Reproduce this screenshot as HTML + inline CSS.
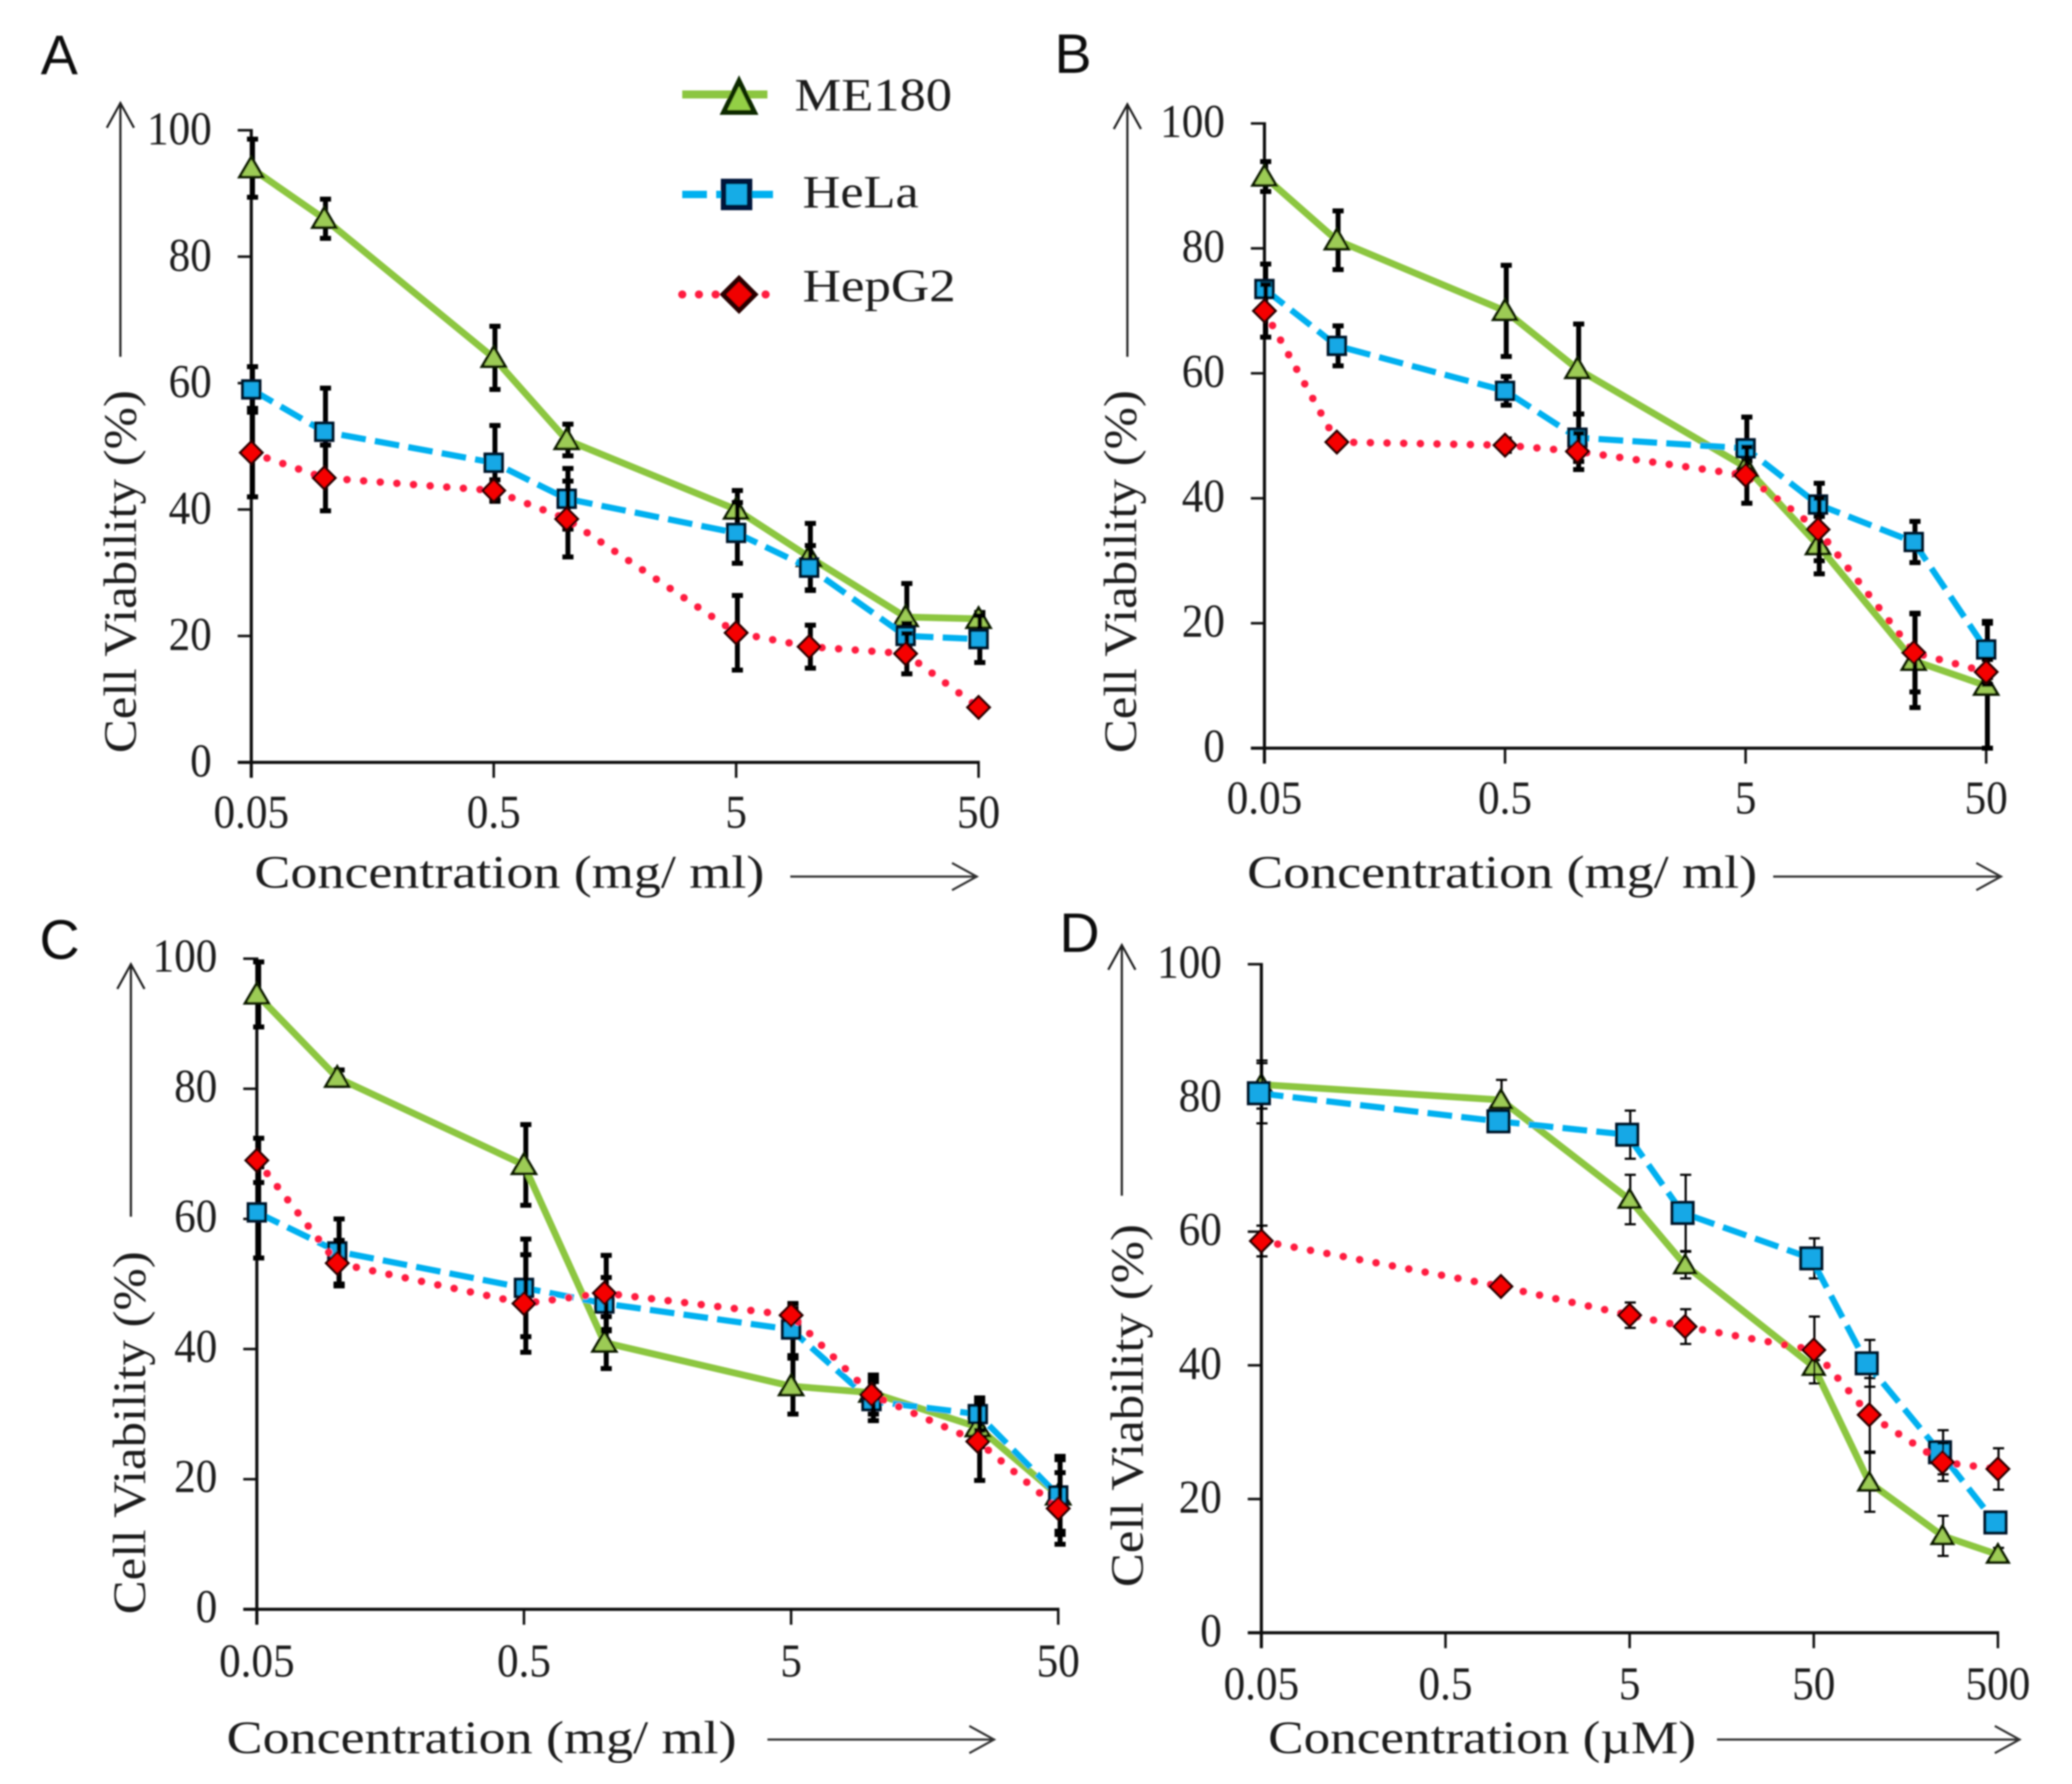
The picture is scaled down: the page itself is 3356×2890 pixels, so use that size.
<!DOCTYPE html>
<html lang="en">
<head>
<meta charset="utf-8">
<title>Cell viability panels</title>
<style>
html,body{margin:0;padding:0;background:#fff;}
body{width:3356px;height:2890px;overflow:hidden;}
svg{display:block;}
text{font-family:"Liberation Serif",serif;fill:#1c1c1c;}
.panel-letter{font-family:"Liberation Sans",sans-serif;font-size:90px;fill:#111;}
.legend-text{font-size:75px;}
</style>
</head>
<body>
<svg id="chart" xmlns="http://www.w3.org/2000/svg" width="3356" height="2890" viewBox="0 0 3356 2890">
  <defs>
    <filter id="soft" x="0" y="0" width="100%" height="100%"><feGaussianBlur stdDeviation="1.2"/></filter>
  </defs>
  <rect width="3356" height="2890" fill="#ffffff"/>
  <g id="root" filter="url(#soft)">
    <text class="panel-letter" x="66" y="120">A</text>
    <text class="panel-letter" x="1708" y="118">B</text>
    <text class="panel-letter" x="64" y="1553">C</text>
    <text class="panel-letter" x="1716" y="1542">D</text>
    <g id="panels"></g>
    <g>
      <g>
        <line x1="1105" y1="153" x2="1243" y2="153" stroke="#8CC63F" stroke-width="13"/>
        <polygon points="1197,131 1222,182 1172,182" fill="#93CF45" stroke="#0f2a00" stroke-width="8" stroke-linejoin="miter"/>
        <text class="legend-text" x="1287" y="179" textLength="255" lengthAdjust="spacingAndGlyphs">ME180</text>
      </g>
      <g>
        <line x1="1105" y1="315" x2="1252" y2="315" stroke="#00B0F0" stroke-width="12" stroke-dasharray="40 15"/>
        <rect x="1172" y="294" width="42" height="42" fill="#18ACE6" stroke="#04183a" stroke-width="9"/>
        <text class="legend-text" x="1300" y="336" textLength="188" lengthAdjust="spacingAndGlyphs">HeLa</text>
      </g>
      <g>
        <line x1="1105" y1="477" x2="1252" y2="477" stroke="#FF1A40" stroke-width="13" stroke-linecap="round" stroke-dasharray="0.1 26.9"/>
        <polygon points="1197,451 1223,477 1197,503 1171,477" fill="#F00000" stroke="#2a0000" stroke-width="8"/>
        <text class="legend-text" x="1300" y="488" textLength="248" lengthAdjust="spacingAndGlyphs">HepG2</text>
      </g>
    </g>
  </g>
</svg>
<script>
// ---- shared axis data ----
const concMg = [0.05, 0.1, 0.5, 1, 5, 10, 25, 50];
const concUm = [0.05, 1, 5, 10, 50, 100, 250, 500];
const xTicksMg = [0.05, 0.5, 5, 50];
const xTicksUm = [0.05, 0.5, 5, 50, 500];
const yTicks = [0, 20, 40, 60, 80, 100];

// ---- panel A ----
const aMe180 = [94, 86, 64, 51, 40, 32.5, 23, 22.7];
const aMe180Err = [4.6, 3.1, 5, 2.5, 3, 5.3, 5.3, 1];
const aHela = [59, 52.3, 47.4, 41.7, 36.3, 30.8, 20, 19.5];
const aHelaErr = [3.6, 6.9, 5.9, 4.8, 4.8, 3.5, 2, 3.7];
const aHepg2 = [49, 45, 43, 38.5, 20.5, 18.3, 17.2, 8.7];
const aHepg2Err = [7, 5.2, 1.7, 6, 5.9, 3.4, 3.2, 0.5];

// ---- panel B ----
const bMe180 = [91.5, 81.3, 70, 60.7, 45, 32.5, 14, 10];
const bMe180Err = [2.4, 4.7, 7.3, 7.2, 1, 4.6, 7.5, 10];
const bHela = [73.5, 64.4, 57.2, 49.7, 48, 39, 33, 15.8];
const bHelaErr = [4, 3.2, 2.3, 3.8, 5, 3.4, 3.3, 4.5];
const bHepg2 = [70, 49, 48.5, 47.5, 43.7, 35, 15.3, 12.2];
const bHepg2Err = [4.2, 0.5, 1, 2.9, 4.5, 5, 6.3, 2];

// ---- panel C ----
const cMe180 = [94.5, 81.7, 68.3, 41, 34.3, 33.3, 28, 17.5];
const cMe180Err = [5, 1.2, 6.2, 4, 4.3, 2, 3, 5.5];
const cHela = [61, 55, 49.4, 47, 43, 32, 30, 17.5];
const cHelaErr = [7, 5, 7.5, 4, 4, 3, 2.5, 6];
const cHepg2 = [69, 53.2, 47, 48.6, 45.2, 33, 25.8, 15.5];
const cHepg2Err = [3.4, 3.5, 7.5, 5.8, 1, 3, 6, 5.5];

// ---- panel D ----
const dMe180 = [82, 79.7, 64.8, 55, 39.8, 22.5, 14.5, 11.7];
const dMe180Err = [3.6, 3, 3.7, 2, 1, 4.4, 3, 1];
const dHela = [80.7, 76.5, 74.5, 62.8, 56, 40.3, 27, 16.5];
const dHelaErr = [4.5, 1, 3.6, 5.7, 3, 3.5, 3.3, 0.5];
const dHepg2 = [58.6, 51.8, 47.5, 45.8, 42.3, 32.6, 25.5, 24.5];
const dHepg2Err = [2.3, 0.5, 1.9, 2.6, 5, 5.5, 2.8, 3.1];

const SVGNS = 'http://www.w3.org/2000/svg';
const panelsRoot = document.getElementById('panels');

function make(tag, parent, attrs) {
  const el = document.createElementNS(SVGNS, tag);
  for (const k in attrs) el.setAttribute(k, attrs[k]);
  parent.appendChild(el);
  return el;
}

function drawPanel(cfg) {
  const key = cfg.key;
  const panel = make('g', panelsRoot, {});
  
  

  const logMin = Math.log10(cfg.xMin);
  const logMax = Math.log10(cfg.xMax);
  const xScale = function (v) { return cfg.x0 + (Math.log10(v) - logMin) / (logMax - logMin) * (cfg.xR - cfg.x0); };
  const yScale = function (v) { return cfg.y0 - v / 100 * (cfg.y0 - cfg.y100); };

  // axes
  const yAxis = make('line', panel, { x1: cfg.x0, y1: cfg.y100 - 2, x2: cfg.x0, y2: cfg.y0 + 25, stroke: '#111', 'stroke-width': 5 });
  
  
  const xAxis = make('line', panel, { x1: cfg.x0 - 22, y1: cfg.y0, x2: cfg.xR + 2, y2: cfg.y0, stroke: '#111', 'stroke-width': 5 });
  
  

  yTicks.forEach(function (t) {
    const y = yScale(t);
    const tick = make('line', panel, { x1: cfg.x0 - 22, y1: y, x2: cfg.x0, y2: y, stroke: '#111', 'stroke-width': 4 });
    
    
    const lab = make('text', panel, { transform: 'translate(' + (cfg.x0 - 64) + ',' + (y + cfg.yLabelGap) + ') scale(0.92,1)', 'text-anchor': 'end', 'font-size': 76 });
    lab.textContent = String(t);
    
    
  });

  cfg.xTicks.forEach(function (t) {
    const x = xScale(t);
    const tick = make('line', panel, { x1: x, y1: cfg.y0, x2: x, y2: cfg.y0 + 25, stroke: '#111', 'stroke-width': 4 });
    
    
    const lab = make('text', panel, { transform: 'translate(' + x + ',' + (cfg.y0 + cfg.xLabelGap) + ') scale(0.92,1)', 'text-anchor': 'middle', 'font-size': 76 });
    lab.textContent = String(t);
    
    
  });

  // titles
  const xTitle = make('text', panel, { x: cfg.xTitleX, y: cfg.xTitleY, 'font-size': 75, textLength: cfg.xTitleW, lengthAdjust: 'spacingAndGlyphs' });
  xTitle.textContent = cfg.xTitle;
  
  

  const yTitle = make('text', panel, { transform: 'translate(' + cfg.yTitleX + ',' + cfg.yTitleY + ') rotate(-90)', 'font-size': 75, textLength: 588, lengthAdjust: 'spacingAndGlyphs' });
  yTitle.textContent = 'Cell Viability (%)';
  
  

  // direction arrows
  const yArrow = make('path', panel, {
    d: 'M' + cfg.yArrowX + ' ' + cfg.yArrowFrom + 'V' + cfg.yArrowTo +
       'M' + (cfg.yArrowX - 22) + ' ' + (cfg.yArrowTo + 40) + 'L' + cfg.yArrowX + ' ' + cfg.yArrowTo + 'L' + (cfg.yArrowX + 22) + ' ' + (cfg.yArrowTo + 40),
    fill: 'none', stroke: '#222', 'stroke-width': 3.5
  });
  
  
  const xArrow = make('path', panel, {
    d: 'M' + cfg.xArrowFrom + ' ' + cfg.xArrowY + 'H' + cfg.xArrowTo +
       'M' + (cfg.xArrowTo - 40) + ' ' + (cfg.xArrowY - 22) + 'L' + cfg.xArrowTo + ' ' + cfg.xArrowY + 'L' + (cfg.xArrowTo - 40) + ' ' + (cfg.xArrowY + 22),
    fill: 'none', stroke: '#333', 'stroke-width': 3.5
  });
  
  

  // series
  cfg.series.forEach(function (s) {
    const group = make('g', panel, {});
    
    
    const nudge = s.nudge || 0;

    s.values.forEach(function (v, i) {
      const x = xScale(cfg.conc[i]) + cfg.ebShift;
      const yHi = yScale(v + s.errors[i]);
      const yLo = yScale(v - s.errors[i]);
      const bar = make('path', group, {
        d: 'M' + x + ' ' + yHi + 'V' + yLo + 'M' + (x - 9) + ' ' + yHi + 'H' + (x + 9) + 'M' + (x - 9) + ' ' + yLo + 'H' + (x + 9),
        fill: 'none', stroke: '#050505', 'stroke-width': cfg.ebWidth
      });
      
      
    });

    const pts = s.values.map(function (v, i) { return (xScale(cfg.conc[i]) + nudge) + ',' + yScale(v); }).join(' ');
    const lineAttrs = { points: pts, fill: 'none', stroke: s.color, 'stroke-width': s.width, 'stroke-linejoin': 'round' };
    if (s.dash) lineAttrs['stroke-dasharray'] = s.dash;
    if (s.cap) lineAttrs['stroke-linecap'] = s.cap;
    const line = make('polyline', group, lineAttrs);
    
    

    s.values.forEach(function (v, i) {
      const x = xScale(cfg.conc[i]) + nudge;
      const y = yScale(v);
      let m;
      if (s.marker === 'tri') {
        const w = cfg.triW / 2;
        m = make('polygon', group, { points: x + ',' + (y - w * 0.95) + ' ' + (x + w) + ',' + (y + w * 0.75) + ' ' + (x - w) + ',' + (y + w * 0.75), fill: '#9CCB55', stroke: '#0e1e00', 'stroke-width': 4.5 });
      } else if (s.marker === 'sq') {
        const h = cfg.sqW / 2;
        m = make('rect', group, { x: x - h, y: y - h, width: cfg.sqW, height: cfg.sqW, fill: '#15A8E6', stroke: '#04142c', 'stroke-width': 5 });
      } else {
        const d = cfg.diaW / 2;
        m = make('polygon', group, { points: x + ',' + (y - d) + ' ' + (x + d) + ',' + y + ' ' + x + ',' + (y + d) + ' ' + (x - d) + ',' + y, fill: '#F50000', stroke: '#2a0000', 'stroke-width': 4 });
      }
      
      
    });
  });
}

function seriesSet(me, meErr, he, heErr, hp, hpErr, heNudge) {
  return [
    { name: 'me180', values: me, errors: meErr, color: '#8CC63F', width: 11, marker: 'tri' },
    { name: 'hela', values: he, errors: heErr, color: '#00B0F0', width: 10, dash: '40 15', marker: 'sq', nudge: heNudge },
    { name: 'hepg2', values: hp, errors: hpErr, color: '#FF1A40', width: 12, dash: '0.1 26.9', cap: 'round', marker: 'dia' }
  ];
}

drawPanel({
  key: 'a', conc: concMg, xMin: 0.05, xMax: 50, xTicks: xTicksMg,
  x0: 407, xR: 1585, y0: 1235, y100: 211, xLabelGap: 106, yLabelGap: 23,
  xTitle: 'Concentration (mg/ ml)', xTitleX: 412, xTitleY: 1438, xTitleW: 826,
  yTitleX: 220, yTitleY: 1220,
  yArrowX: 195, yArrowFrom: 578, yArrowTo: 167,
  xArrowFrom: 1280, xArrowTo: 1582, xArrowY: 1420,
  ebShift: 2, ebWidth: 8, triW: 38, sqW: 28, diaW: 36,
  series: seriesSet(aMe180, aMe180Err, aHela, aHelaErr, aHepg2, aHepg2Err, 0)
});
drawPanel({
  key: 'b', conc: concMg, xMin: 0.05, xMax: 50, xTicks: xTicksMg,
  x0: 2048, xR: 3217, y0: 1212, y100: 200, xLabelGap: 106, yLabelGap: 22,
  xTitle: 'Concentration (mg/ ml)', xTitleX: 2020, xTitleY: 1438, xTitleW: 826,
  yTitleX: 1840, yTitleY: 1220,
  yArrowX: 1826, yArrowFrom: 578, yArrowTo: 169,
  xArrowFrom: 2872, xArrowTo: 3241, xArrowY: 1420,
  ebShift: 2, ebWidth: 8, triW: 38, sqW: 28, diaW: 36,
  series: seriesSet(bMe180, bMe180Err, bHela, bHelaErr, bHepg2, bHepg2Err, 0)
});
drawPanel({
  key: 'c', conc: concMg, xMin: 0.05, xMax: 50, xTicks: xTicksMg,
  x0: 416, xR: 1714, y0: 2607, y100: 1553, xLabelGap: 109, yLabelGap: 21,
  xTitle: 'Concentration (mg/ ml)', xTitleX: 367, xTitleY: 2840, xTitleW: 826,
  yTitleX: 235, yTitleY: 2615,
  yArrowX: 212, yArrowFrom: 1971, yArrowTo: 1562,
  xArrowFrom: 1243, xArrowTo: 1610, xArrowY: 2818,
  ebShift: 3, ebWidth: 8, triW: 38, sqW: 28, diaW: 36,
  series: seriesSet(cMe180, cMe180Err, cHela, cHelaErr, cHepg2, cHepg2Err, 0)
});
drawPanel({
  key: 'd', conc: concUm, xMin: 0.05, xMax: 500, xTicks: xTicksUm,
  x0: 2043, xR: 3236, y0: 2645, y100: 1562, xLabelGap: 108, yLabelGap: 22,
  xTitle: 'Concentration (\u00B5M)', xTitleX: 2054, xTitleY: 2840, xTitleW: 693,
  yTitleX: 1851, yTitleY: 2571,
  yArrowX: 1817, yArrowFrom: 1937, yArrowTo: 1531,
  xArrowFrom: 2781, xArrowTo: 3271, xArrowY: 2818,
  ebShift: 1, ebWidth: 3.5, triW: 34, sqW: 34, diaW: 36,
  series: seriesSet(dMe180, dMe180Err, dHela, dHelaErr, dHepg2, dHepg2Err, -4)
});
</script>
</body>
</html>
